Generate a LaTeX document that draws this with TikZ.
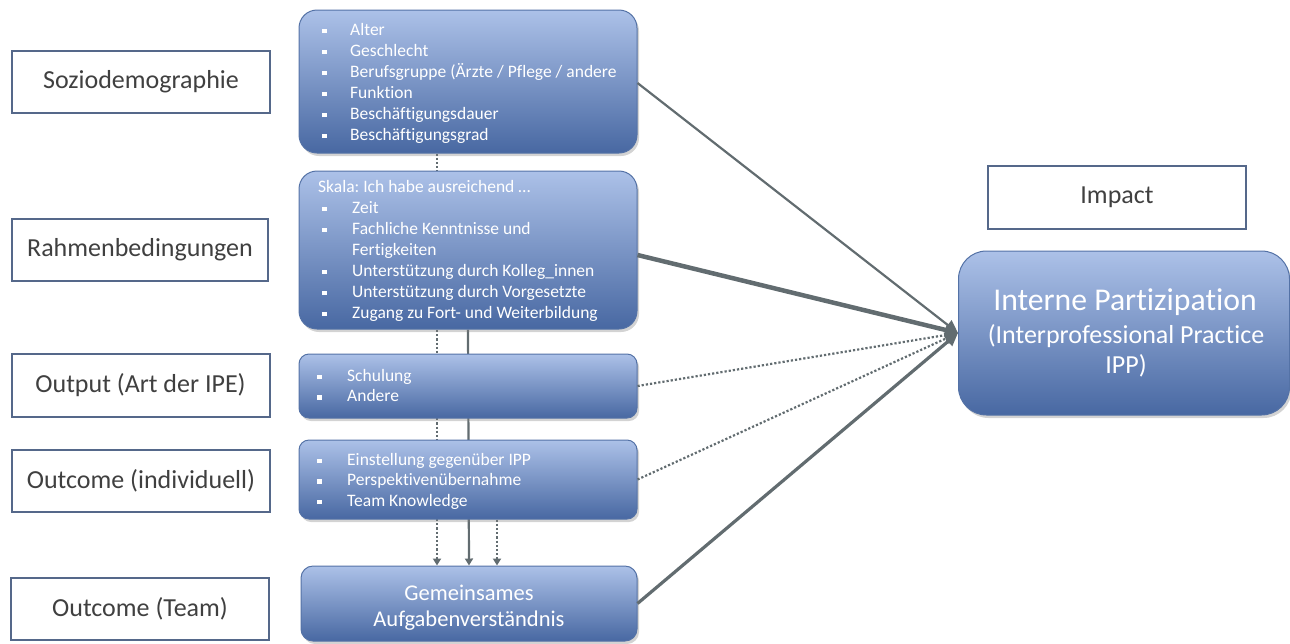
\documentclass[tikz,border=0pt]{standalone}
\usepackage{fontspec}
\setmainfont[Ligatures={NoCommon}]{Carlito}
\usetikzlibrary{arrows.meta,shadows,calc}
\definecolor{labborder}{RGB}{85,104,138}
\definecolor{labtext}{RGB}{64,64,64}
\definecolor{btop}{RGB}{172,193,232}
\definecolor{bbot}{RGB}{72,104,162}
\definecolor{bborder}{RGB}{84,114,166}
\definecolor{conncol}{RGB}{98,108,112}
\pgfdeclarelayer{background}
\pgfsetlayers{background,main}
\newcommand\sqbul[1]{\makebox[#1][l]{\rule[2pt]{4.5pt}{4.5pt}}}
\frenchspacing
\begin{document}
\begin{tikzpicture}[x=1pt,y=-1pt,
  lab/.style={draw=labborder, line width=2pt, fill=white, text=labtext,
    font=\fontsize{26}{30}\selectfont, minimum width=258pt, minimum height=62pt, inner sep=0pt},
  bluebox/.style={draw=bborder, line width=1pt, top color=btop, bottom color=bbot,
    rounded corners=#1, drop shadow={opacity=0.35, shadow xshift=2pt, shadow yshift=-3pt}, inner sep=0pt},
  itemtext/.style={text=white, font=\fontsize{17.5}{21}\selectfont, align=left, anchor=north west, inner sep=0pt},
  bigtext/.style={text=white, inner sep=0pt, anchor=base},
  conn/.style={draw=conncol, -{Triangle[length=13pt,width=12pt]}},
  dotconn/.style={draw=conncol, line width=2.2pt, dash pattern=on 2.2pt off 2pt, -{Triangle[length=13pt,width=12pt]}},
  vtip/.style={-{Triangle[length=7pt,width=8pt]}}
]
\useasboundingbox (0,0) rectangle (1290,643);

% left labels
\node[lab] (l1) at (141,82) {Soziodemographie};
\node[lab, minimum width=256pt] (l2) at (140,250) {Rahmenbedingungen};
\node[lab, minimum height=63pt] (l3) at (140.5,385.5) {Output (Art der IPE)};
\node[lab] (l4) at (141,481) {Outcome (individuell)};
\node[lab] (l5) at (140,608.5) {Outcome (Team)};
\node[lab, minimum height=63pt] (imp) at (1117,197) {Impact};

% blue boxes
\node[bluebox=18pt, minimum width=338pt, minimum height=143pt] (b1) at (468,81.5) {};
\node[bluebox=18pt, minimum width=338pt, minimum height=158pt] (b2) at (468,250) {};
\node[bluebox=10pt, minimum width=338pt, minimum height=64pt] (b3) at (468,386) {};
\node[bluebox=10pt, minimum width=338pt, minimum height=79pt] (b4) at (468,479.5) {};
\node[bluebox=12pt, minimum width=336pt, minimum height=75pt] (b5) at (469,603.5) {};
\node[bluebox=28pt, minimum width=331pt, minimum height=164pt] (ipp) at (1124,333) {};

% texts in blue boxes
\node[itemtext] (t1) at (322,21) {\rule{0pt}{14pt}\sqbul{28pt}Alter\\
  \sqbul{28pt}Geschlecht\\
  \sqbul{28pt}Berufsgruppe (Ärzte / Pflege / andere\\
  \sqbul{28pt}Funktion\\
  \sqbul{28pt}Beschäftigungsdauer\\
  \sqbul{28pt}Beschäftigungsgrad};
\node[itemtext] (t2) at (318,178) {\rule{0pt}{14pt}Skala: Ich habe ausreichend …\\
  \hspace*{4pt}\sqbul{30pt}Zeit\\
  \hspace*{4pt}\sqbul{30pt}Fachliche Kenntnisse und\\
  \hspace*{34pt}Fertigkeiten\\
  \hspace*{4pt}\sqbul{30pt}Unterstützung durch Kolleg\_innen\\
  \hspace*{4pt}\sqbul{30pt}Unterstützung durch Vorgesetzte\\
  \hspace*{4pt}\sqbul{30pt}Zugang zu Fort- und Weiterbildung};
\node[itemtext, font=\fontsize{17.5}{20.5}\selectfont] (t3) at (317,367) {\rule{0pt}{14pt}\sqbul{30pt}Schulung\\
  \sqbul{30pt}Andere};
\node[itemtext, font=\fontsize{17.5}{20.5}\selectfont] (t4) at (317,451) {\rule{0pt}{14pt}\sqbul{30pt}Einstellung gegenüber IPP\\
  \sqbul{30pt}Perspektivenübernahme\\
  \sqbul{30pt}Team Knowledge};
\node[bigtext, font=\fontsize{22.5}{26}\selectfont] (t5a) at (469,600) {Gemeinsames};
\node[bigtext, font=\fontsize{22.5}{26}\selectfont] (t5b) at (469,626) {Aufgabenverständnis};
\node[bigtext, font=\fontsize{31.7}{36}\selectfont] (ipp1) at (1125,310) {Interne Partizipation};
\node[bigtext, font=\fontsize{26}{30}\selectfont] (ipp2) at (1126,343) {(Interprofessional Practice};
\node[bigtext, font=\fontsize{26}{30}\selectfont] (ipp3) at (1126,373) {IPP)};

% vertical connectors (behind boxes)
\begin{pgfonlayer}{background}
\draw[conncol, line width=2.2pt, dash pattern=on 2.2pt off 2pt, vtip] ($(b1.south)+(-31,0)$) -- ($(b5.north)+(-32,0)$);
\draw[conncol, line width=2.2pt, vtip] (b2.south) -- (b5.north);
\draw[conncol, line width=2.2pt, dash pattern=on 2.2pt off 2pt, vtip] ($(b4.south)+(29,0)$) -- ($(b5.north)+(28,0)$);
\end{pgfonlayer}

% connectors to IPP
\draw[conn, line width=2.2pt] ($(b1.east)+(0,1.5)$) -- (ipp.west);
\draw[conn, line width=4.5pt] ($(b2.east)+(0,5)$) -- (ipp.west);
\draw[dotconn] (b3.east) -- (ipp.west);
\draw[dotconn] (b4.east) -- (ipp.west);
\draw[conn, line width=3.2pt] (b5.east) -- (ipp.west);
\end{tikzpicture}
\end{document}
